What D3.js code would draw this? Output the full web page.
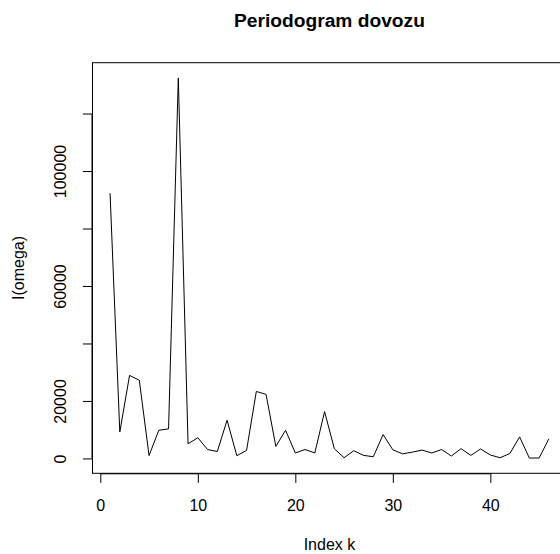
<!DOCTYPE html>
<html>
<head>
<meta charset="utf-8">
<script src="https://cdn.jsdelivr.net/npm/d3@7"></script>
<style>
  html, body { margin: 0; padding: 0; background: #fff; }
  svg { display: block; }
  text { font-family: "Liberation Sans", Arial, Helvetica, sans-serif; fill: #000; }
</style>
</head>
<body>
<svg id="chart" width="560" height="554"></svg>
<script>
// Data: periodogram ordinates I(omega_k), k = 1..46
const indexK = d3.range(1, 47);
const periodogram = [
  92300, 9200, 28900, 27200, 1000, 9800, 10300, 132400, 5100, 7200,
  3100, 2400, 13300, 950, 2800, 23300, 22300, 4200, 9800, 1900,
  3100, 1900, 16300, 3400, 250, 2700, 1050, 600, 8300, 3000,
  1600, 2200, 2900, 1900, 3100, 850, 3400, 1050, 3300, 1200,
  250, 1700, 7500, 120, 150, 6800
];
const xTicks = [0, 10, 20, 30, 40];
const yTicks = [0, 20000, 40000, 60000, 80000, 100000, 120000];
const yTickLabels = ["0", "20000", "", "60000", "", "100000", ""];
const titleText = "Periodogram dovozu";
const xLabel = "Index k";
const yLabel = "I(omega)";

const svg = d3.select("#chart");
const box = { left: 92.5, right: 566.4, top: 62.7, bottom: 473.3 };

// R-style 4% padding of the data range
const xMin = d3.min(indexK), xMax = d3.max(indexK);
const xPad = 0.04 * (xMax - xMin);
const yMin = d3.min(periodogram), yMax = d3.max(periodogram);
const yPad = 0.04 * (yMax - yMin);

const x = d3.scaleLinear().domain([xMin - xPad, xMax + xPad]).range([box.left, box.right]);
const y = d3.scaleLinear().domain([yMin - yPad, yMax + yPad]).range([box.bottom, box.top]);

// Series line
const line = d3.line().x((d, i) => x(indexK[i])).y(d => y(d));
svg.append("path")
  .datum(periodogram)
  .attr("d", line)
  .attr("fill", "none")
  .attr("stroke", "#000")
  .attr("stroke-width", 1)
  .attr("stroke-linejoin", "round");

// Plot box
svg.append("rect")
  .attr("x", box.left).attr("y", box.top)
  .attr("width", box.right - box.left).attr("height", box.bottom - box.top)
  .attr("fill", "none").attr("stroke", "#000").attr("stroke-width", 1);

const tickLen = 9.6;

// X axis
const xAxis = d3.axisBottom(x).tickValues(xTicks).tickSize(tickLen).tickPadding(0).tickFormat(d3.format("d"));
const gx = svg.append("g").attr("transform", `translate(0,${box.bottom})`).call(xAxis);
gx.select(".domain").attr("d", `M${x(xTicks[0])},0.5H${x(xTicks[xTicks.length - 1])}`).attr("stroke", "#000");
gx.selectAll(".tick line").attr("stroke", "#000");
gx.selectAll(".tick text")
  .attr("y", 37.4).attr("dy", null)
  .style("font-size", "16px")
  .attr("fill", "#000");

// Y axis
const yAxis = d3.axisLeft(y).tickValues(yTicks).tickSize(tickLen).tickPadding(0)
  .tickFormat((d, i) => yTickLabels[i]);
const gy = svg.append("g").attr("transform", `translate(${box.left},0)`).call(yAxis);
gy.select(".domain").attr("d", `M-0.5,${y(yTicks[0])}V${y(yTicks[yTicks.length - 1])}`).attr("stroke", "#000");
gy.selectAll(".tick line").attr("stroke", "#000");
gy.selectAll(".tick text")
  .attr("x", null).attr("dy", null)
  .attr("text-anchor", "middle")
  .attr("transform", "translate(-27,0) rotate(-90)")
  .style("font-size", "16px")
  .attr("fill", "#000");

// Title
svg.append("text")
  .attr("x", (box.left + box.right) / 2).attr("y", 26.7)
  .attr("text-anchor", "middle")
  .style("font-size", "19.2px").style("font-weight", "bold")
  .text(titleText);

// Axis labels
svg.append("text")
  .attr("x", (box.left + box.right) / 2).attr("y", 550)
  .attr("text-anchor", "middle")
  .style("font-size", "16px")
  .text(xLabel);

svg.append("text")
  .attr("transform", `translate(23.5,${(box.top + box.bottom) / 2}) rotate(-90)`)
  .attr("text-anchor", "middle")
  .style("font-size", "16px")
  .text(yLabel);
</script>
</body>
</html>
